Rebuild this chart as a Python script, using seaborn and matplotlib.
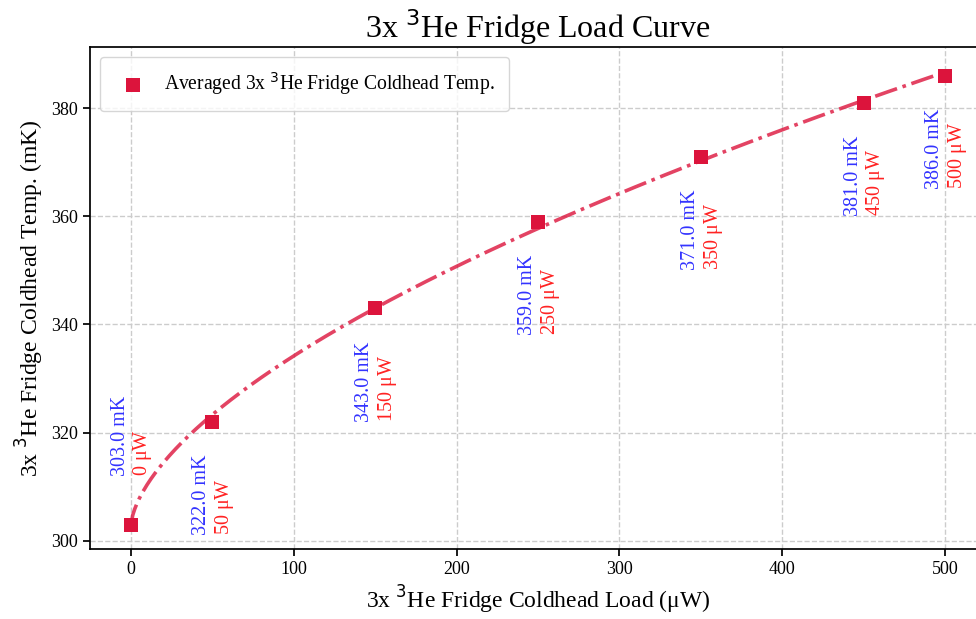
import numpy as np
import pandas as pd
import seaborn as sns
import matplotlib
import matplotlib.pyplot as plt

matplotlib.use('Agg')

# measured load points
load_uw = [0, 50, 150, 250, 350, 450, 500]
temp_mk = [303.0, 322.0, 343.0, 359.0, 371.0, 381.0, 386.0]

# label vertical offsets (mK) relative to each point
label_dy = [9, -21, -21, -21, -21, -21, -21]

COLOR = '#DC143C'
MU = '$\\mathregular{\\mu}$'


def fit_power(x, y):
    # y = a + b * x**c, best c from a coarse scan, a/b by least squares
    x = np.asarray(x, float)
    y = np.asarray(y, float)
    best = None
    for c in np.linspace(0.2, 1.5, 1301):
        A = np.column_stack([np.ones_like(x), x ** c])
        coef, res, *_ = np.linalg.lstsq(A, y, rcond=None)
        err = np.sum((A @ coef - y) ** 2)
        if best is None or err < best[0]:
            best = (err, coef[0], coef[1], c)
    return best[1:]


sns.set_theme(style='ticks', rc={'text.color': 'black', 'axes.labelcolor': 'black',
                                 'xtick.color': 'black', 'ytick.color': 'black'})
plt.rcParams['font.family'] = ['Liberation Serif', 'DejaVu Sans']
plt.rcParams['mathtext.fontset'] = 'dejavusans'

df = pd.DataFrame({'load': load_uw, 'temp': temp_mk})
a, b, c = fit_power(load_uw, temp_mk)
xs = np.linspace(0, max(load_uw), 400)
fit_df = pd.DataFrame({'load': xs, 'temp': a + b * xs ** c})

fig = plt.figure(figsize=(9.76, 6.19), dpi=100)
ax = fig.add_axes([0.0922, 0.1131, 0.918, 0.811])

sns.lineplot(data=fit_df, x='load', y='temp', ax=ax, color=COLOR, alpha=0.8,
             lw=2.6, linestyle='-.', zorder=2)
sns.scatterplot(data=df, x='load', y='temp', ax=ax, color=COLOR, marker='s',
                s=105, edgecolor='none', zorder=3,
                label='Averaged 3x $^3$He Fridge Coldhead Temp.')

for x, y, dy in zip(load_uw, temp_mk, label_dy):
    ax.text(x - 6.5, y + dy, f'{y:.1f} mK', rotation=90, color='#3333ff',
            fontsize=14.5, ha='center', va='bottom')
    ax.text(x + 7.5, y + dy, f'{x} {MU}W', rotation=90, color='#ff2222',
            fontsize=14.5, ha='center', va='bottom')

ax.set_xlim(-25, 525)
ax.set_ylim(298.5, 391.3)
ax.set_xticks([0, 100, 200, 300, 400, 500])
ax.set_yticks([300, 320, 340, 360, 380])
ax.grid(True, ls='--', color='#cccccc', lw=1)
ax.set_axisbelow(True)
for s in ax.spines.values():
    s.set_color('black')
ax.tick_params(labelsize=13, color='black', length=5)

ax.set_title('3x $^3$He Fridge Load Curve', fontsize=23, pad=3)
ax.set_xlabel(f'3x $^3$He Fridge Coldhead Load ({MU}W)', fontsize=17)
ax.set_ylabel('3x $^3$He Fridge Coldhead Temp. (mK)', fontsize=17)
ax.legend(loc='upper left', fontsize=14.1, frameon=True, borderpad=0.7,
          handletextpad=0.6)

fig.savefig('out.png', dpi=100)
